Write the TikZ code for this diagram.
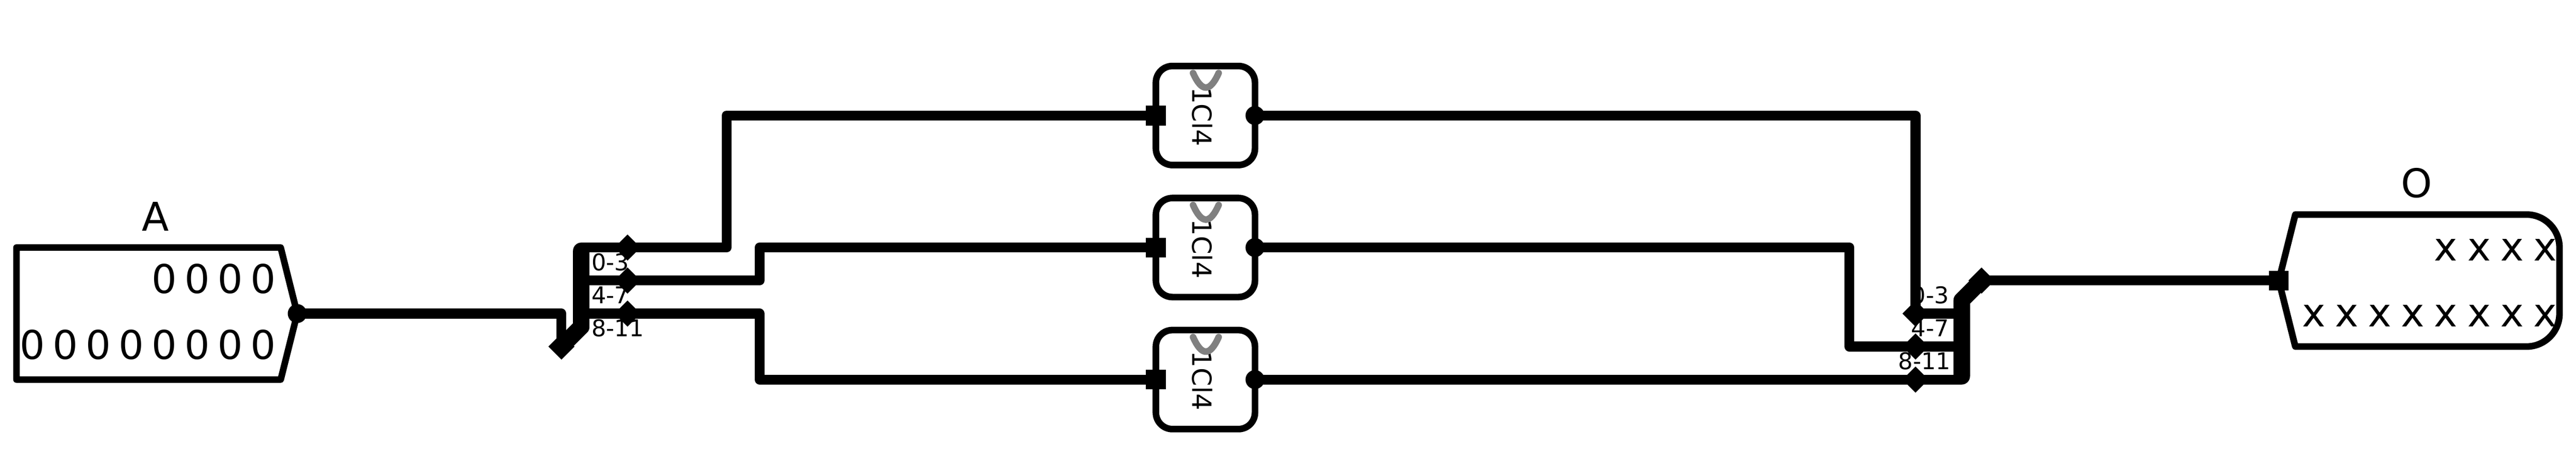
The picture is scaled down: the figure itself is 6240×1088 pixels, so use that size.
\documentclass[tikz,border=0pt]{standalone}
\usepackage{fontspec}
\setmainfont{DejaVu Sans}
\usetikzlibrary{shapes.geometric}

\begin{document}
\begin{tikzpicture}[x=.1mm, y=-.1mm, line join=round,
        wire/.style={line width=2.4mm},
        trunk/.style={line width=4mm, line cap=round},
        outline/.style={line width=1.6mm},
        cell/.style={draw, outline, rounded corners=4mm, minimum size=24mm, inner sep=0pt},
        portin/.style={fill, rectangle, minimum size=4.8mm, inner sep=0pt},
        portout/.style={fill, circle, minimum size=4.6mm, inner sep=0pt},
        tap/.style={fill, diamond, aspect=1, minimum size=6.4mm, inner sep=0pt},
        bigtext/.style={anchor=base, inner sep=0pt, font=\fontsize{27.3pt}{27.3pt}\selectfont},
        celltext/.style={rotate=-90, inner sep=0pt, font=\fontsize{18.2pt}{18.2pt}\selectfont},
        tinytext/.style={inner sep=0pt, font=\fontsize{15.9pt}{15.9pt}\selectfont}]
        \useasboundingbox (0,0) rectangle (6240,1088);

        \node[bigtext] (Atitle) at (377,560) {A};
        \foreach \x in {398,478,558,638}
            \node[bigtext] (Ahi\x) at (\x,711) {0};
        \foreach \x in {78,158,...,638}
            \node[bigtext] (Alo\x) at (\x,871) {0};
        \node[bigtext] (Otitle) at (5854,479) {O};
        \foreach \x in {5925,6005,6085,6165}
            \node[bigtext] (Ohi\x) at (\x,632) {x};
        \foreach \x in {5605,5685,...,6165}
            \node[bigtext] (Olo\x) at (\x,792) {x};

        \draw[outline] (40,600) -- (680,600) -- (720,760) -- (680,920) -- (40,920) -- cycle;
        \draw[outline] (5520,680) -- (5560,520) [rounded corners=8mm] -- (6200,520) -- (6200,840) [sharp corners] -- (5560,840) -- cycle;

        \node[tinytext, anchor=base west] (la0) at (1432,656) {0-3};
        \node[tinytext, anchor=base west] (la1) at (1432,736) {4-7};
        \node[tinytext, anchor=base west] (la2) at (1432,816) {8-11};
        \node[tinytext, anchor=base east] (lo0) at (4722,736) {0-3};
        \node[tinytext, anchor=base east] (lo1) at (4722,816) {4-7};
        \node[tinytext, anchor=base east] (lo2) at (4726,896) {8-11};

        \foreach \n/\y in {1/280,2/600,3/920} {
            \node[cell] (box\n) at (2920,\y) {};
            \node[celltext] (boxtext\n) at (2912.5,\y+3) {1Cl4};
            \draw[line width=1.6mm, gray, line cap=round] (2890,\y-103) .. controls (2911,\y-56) and (2931,\y-56) .. (2952,\y-103);
            \node[portin] (in\n) at (2800,\y) {};
            \node[portout] (out\n) at (3040,\y) {};
        }

        \node[portout] (Aout) at (720,760) {};
        \node[portin] (Oin) at (5520,680) {};
        \node[tap] (sa) at (1360,840) {};
        \node[tap] (so) at (4800,680) {};
        \foreach \i/\y in {0/600,1/680,2/760}
            \node[tap] (ta\i) at (1520,\y) {};
        \foreach \i/\y in {0/760,1/840,2/920}
            \node[tap] (to\i) at (4640,\y) {};

        \coordinate (ja) at (1408,792);
        \coordinate (jatop) at (1408,608);
        \coordinate (ja0) at (1408,600);
        \coordinate (ja1) at (1408,680);
        \coordinate (ja2) at (1408,760);
        \coordinate (jo) at (4752,728);
        \coordinate (jobot) at (4752,912);
        \coordinate (jo0) at (4752,760);
        \coordinate (jo1) at (4752,840);
        \coordinate (jo2) at (4752,920);
        \coordinate (b0) at (1760,280);
        \coordinate (b1) at (1840,600);
        \coordinate (b2) at (1840,920);
        \coordinate (c1) at (4480,840);

        \draw[wire] (Aout.center) -| (sa.center);
        \draw[trunk] (sa.center) -- (ja) -- (jatop);
        \draw[wire] (ja0) -- (ta0.center) -| (b0) -- (in1.center);
        \draw[wire] (ja1) -- (ta1.center) -| (b1) -- (in2.center);
        \draw[wire] (ja2) -- (ta2.center) -| (b2) -- (in3.center);
        \draw[wire] (out1.center) -| (to0.center) -- (jo0);
        \draw[wire] (out2.center) -| (c1) -- (to1.center) -- (jo1);
        \draw[wire] (out3.center) -- (to2.center) -- (jo2);
        \draw[trunk] (so.center) -- (jo) -- (jobot);
        \draw[wire] (so.center) -- (Oin.center);
    \end{tikzpicture}
\end{document}
